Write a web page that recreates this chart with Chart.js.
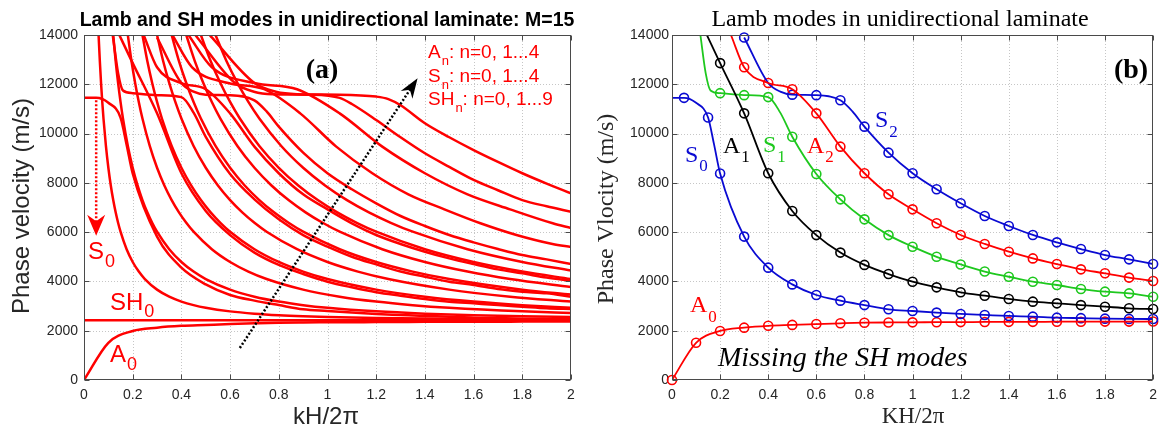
<!DOCTYPE html>
<html><head><meta charset="utf-8">
<script src="https://cdn.jsdelivr.net/npm/chart.js@4/dist/chart.umd.min.js"></script>
<style>
html,body{margin:0;padding:0;background:#fff;}
#wrap{position:relative;width:1164px;height:433px;overflow:hidden;}
canvas{position:absolute;top:0;}
#cL{left:0} #cR{left:582px}
</style></head><body>
<div id="wrap"><canvas id="cL" width="582" height="433"></canvas><canvas id="cR" width="582" height="433"></canvas></div>
<script>
// ---------- axis ticks ----------
const xTicks = [0,0.2,0.4,0.6,0.8,1,1.2,1.4,1.6,1.8,2];
const yTicks = [0,2000,4000,6000,8000,10000,12000,14000];

// ---------- Lamb modes (markers) + extra line-shape points ----------
const rA0_x = [0,0.1,0.2,0.3,0.4,0.5,0.6,0.7,0.8,0.9,1.0,1.1,1.2,1.3,1.4,1.5,1.6,1.7,1.8,1.9,2.0];
const rA0_v = [0,1510,1990,2125,2200,2235,2270,2300,2325,2335,2340,2345,2350,2355,2360,2360,2365,2365,2370,2370,2375];
const rA0_extra = [];
const rS0_x = [0.05,0.15,0.2,0.3,0.4,0.5,0.6,0.7,0.8,0.9,1.0,1.1,1.2,1.3,1.4,1.5,1.6,1.7,1.8,1.9,2.0];
const rS0_v = [11450,10650,8380,5820,4560,3880,3450,3220,3040,2870,2800,2735,2680,2640,2600,2570,2530,2510,2490,2480,2475];
const rS0_extra = [[0,11450],[0.1,11250],[0.175,9550]];
const rA1_x = [0.2,0.3,0.4,0.5,0.6,0.7,0.8,0.9,1.0,1.1,1.2,1.3,1.4,1.5,1.6,1.7,1.8,1.9,2.0];
const rA1_v = [12860,10820,8390,6860,5880,5170,4670,4300,3990,3760,3560,3420,3290,3180,3110,3040,2975,2910,2880];
const rA1_extra = [[0.145,14000]];
const rS1_x = [0.2,0.3,0.4,0.5,0.6,0.7,0.8,0.9,1.0,1.1,1.2,1.3,1.4,1.5,1.6,1.7,1.8,1.9,2.0];
const rS1_v = [11640,11560,11480,9870,8360,7330,6520,5880,5410,5000,4690,4400,4190,3990,3855,3690,3585,3515,3380];
const rS1_extra = [[0.118,14000],[0.14,12450],[0.16,11750],[0.45,10850]];
const rA2_x = [0.3,0.4,0.5,0.6,0.7,0.8,0.9,1.0,1.1,1.2,1.3,1.4,1.5,1.6,1.7,1.8,1.9,2.0];
const rA2_v = [12690,12050,11800,10820,9470,8390,7535,6925,6360,5885,5520,5205,4935,4705,4490,4330,4155,4020];
const rA2_extra = [[0.245,14000]];
const rS2_x = [0.3,0.5,0.6,0.7,0.8,0.9,1.0,1.1,1.2,1.3,1.4,1.5,1.6,1.7,1.8,1.9,2.0];
const rS2_v = [13900,11580,11560,11350,10280,9225,8390,7740,7170,6655,6250,5885,5585,5315,5070,4895,4705];
const rS2_extra = [[0.4,12050],[0.45,11700],[0.75,10900]];

// ---------- extra modes only in panel (a): [kH/2pi, phase velocity] ----------
const lA3  = [[0.363,14000],[0.444,12690],[0.592,12050],[0.74,11800],[0.888,10820],[1.036,9470],[1.184,8390],[1.332,7535],[1.48,6925],[1.628,6360],[1.776,5885],[1.924,5520],[2.0,5400]];
const lA4  = [[0.429,14000],[0.525,12690],[0.7,12050],[0.875,11800],[1.05,10820],[1.225,9470],[1.4,8390],[1.575,7535],[1.75,6925],[1.925,6360],[2.0,6170]];
const lS3  = [[0.457,14000],[0.465,13900],[0.62,12050],[0.698,11700],[0.775,11600],[0.93,11580],[1.05,11450],[1.1,11200],[1.2,10550],[1.3,9850],[1.4,9200],[1.5,8650],[1.6,8120],[1.7,7700],[1.8,7300],[1.9,7050],[2.0,6830]];
const lS4  = [[0.516,14000],[0.525,13900],[0.7,12050],[0.788,11700],[0.875,11600],[1.05,11580],[1.2,11500],[1.25,11400],[1.3,11150],[1.4,10420],[1.5,9850],[1.6,9330],[1.7,8850],[1.8,8390],[1.9,7970],[2.0,7575]];
const lSH0 = [[0,2420],[2,2420]];
const lSH1 = [[0.0599,14000],[0.065,12943],[0.07,12054],[0.075,11283],[0.08,10611],[0.09,9497],[0.1,8612],[0.11,7894],[0.12,7301],[0.13,6803],[0.14,6380],[0.15,6018],[0.175,5307],[0.2,4789],[0.225,4399],[0.25,4097],[0.3,3667],[0.35,3381],[0.4,3182],[0.45,3038],[0.5,2931],[0.6,2785],[0.7,2693],[0.8,2631],[0.9,2588],[1.0,2557],[1.2,2516],[1.6,2474],[2.0,2455]];
const lSH2 = [[0.12,14000],[0.13,12943],[0.14,12054],[0.15,11283],[0.16,10611],[0.18,9497],[0.2,8612],[0.22,7894],[0.24,7301],[0.26,6803],[0.28,6380],[0.3,6018],[0.35,5307],[0.4,4789],[0.45,4399],[0.5,4097],[0.6,3667],[0.7,3381],[0.8,3182],[0.9,3038],[1.0,2931],[1.2,2785],[1.4,2693],[1.6,2631],[1.8,2588],[2.0,2557]];
const lSH3 = [[0.18,14000],[0.195,12943],[0.21,12054],[0.225,11283],[0.24,10611],[0.27,9497],[0.3,8612],[0.33,7894],[0.36,7301],[0.39,6803],[0.42,6380],[0.45,6018],[0.525,5307],[0.6,4789],[0.675,4399],[0.75,4097],[0.9,3667],[1.05,3381],[1.2,3182],[1.35,3038],[1.5,2931],[1.8,2785],[2.0,2719]];
const lSH4 = [[0.24,14000],[0.26,12943],[0.28,12054],[0.3,11283],[0.32,10611],[0.36,9497],[0.4,8612],[0.44,7894],[0.48,7301],[0.52,6803],[0.56,6380],[0.6,6018],[0.7,5307],[0.8,4789],[0.9,4399],[1.0,4097],[1.2,3667],[1.4,3381],[1.6,3182],[1.8,3038],[2.0,2931]];
const lSH5 = [[0.3,14000],[0.325,12943],[0.35,12054],[0.375,11283],[0.4,10611],[0.45,9497],[0.5,8612],[0.55,7894],[0.6,7301],[0.65,6803],[0.7,6380],[0.75,6018],[0.875,5307],[1.0,4789],[1.125,4399],[1.25,4097],[1.5,3667],[1.75,3381],[2.0,3182]];
const lSH6 = [[0.36,14000],[0.39,12943],[0.42,12054],[0.45,11283],[0.48,10611],[0.54,9497],[0.6,8612],[0.66,7894],[0.72,7301],[0.78,6803],[0.84,6380],[0.9,6018],[1.05,5307],[1.2,4789],[1.35,4399],[1.5,4097],[1.8,3667],[2.0,3465]];
const lSH7 = [[0.42,14000],[0.455,12943],[0.49,12054],[0.525,11283],[0.56,10611],[0.63,9497],[0.7,8612],[0.77,7894],[0.84,7301],[0.91,6803],[0.98,6380],[1.05,6018],[1.225,5307],[1.4,4789],[1.575,4399],[1.75,4097],[2.0,3771]];
const lSH8 = [[0.48,14000],[0.52,12943],[0.56,12054],[0.6,11283],[0.64,10611],[0.72,9497],[0.8,8612],[0.88,7894],[0.96,7301],[1.04,6803],[1.12,6380],[1.2,6018],[1.4,5307],[1.6,4789],[1.8,4399],[2.0,4097]];
const lSH9 = [[0.54,14000],[0.585,12943],[0.63,12054],[0.675,11283],[0.72,10611],[0.81,9497],[0.9,8612],[0.99,7894],[1.08,7301],[1.17,6803],[1.26,6380],[1.35,6018],[1.575,5307],[1.8,4789],[2.0,4438]];

const RED='#ff0000', BLUE='#0a0ad2', GREEN='#1ec81e', BLACK='#000000';
const lamb = [
  {x:rS0_x,v:rS0_v,e:rS0_extra,c:BLUE},
  {x:rA1_x,v:rA1_v,e:rA1_extra,c:BLACK},
  {x:rS1_x,v:rS1_v,e:rS1_extra,c:GREEN},
  {x:rA2_x,v:rA2_v,e:rA2_extra,c:RED},
  {x:rS2_x,v:rS2_v,e:rS2_extra,c:BLUE},
  {x:rA0_x,v:rA0_v,e:rA0_extra,c:RED}
];
const leftOnly = [lA3,lA4,lS3,lS4,lSH0,lSH1,lSH2,lSH3,lSH4,lSH5,lSH6,lSH7,lSH8,lSH9];

// ---------- helpers ----------
const SANS='"Liberation Sans", Arial, sans-serif';
const SERIF='"Liberation Serif", "Times New Roman", serif';
function pts(a){return a.map(p=>({x:p[0],y:p[1]}));}
function merged(xs,vs,extra){const a=xs.map((x,i)=>[x,vs[i]]).concat(extra);a.sort((p,q)=>p[0]-q[0]);return pts(a);}

function scales(yW){
  return {
    x:{type:'linear',min:0,max:2,afterBuildTicks:s=>{s.ticks=xTicks.map(v=>({value:v}));},
       ticks:{autoSkip:false,maxRotation:0,padding:7,color:'#262626',font:{family:SANS,size:14},callback:v=>String(Math.round(v*10)/10)},
       grid:{display:false,drawTicks:false},border:{display:false},afterFit:s=>{s.height=53;}},
    y:{type:'linear',min:0,max:14000,afterBuildTicks:s=>{s.ticks=yTicks.map(v=>({value:v}));},
       ticks:{padding:yW===84?6:3,color:'#262626',font:{family:SANS,size:14},callback:v=>String(v)},
       grid:{display:false,drawTicks:false},border:{display:false},afterFit:s=>{s.width=yW;}}
  };
}

const framePlugin={
  id:'frame',
  beforeDatasetsDraw(c){
    const ctx=c.ctx,a=c.chartArea,x=c.scales.x,y=c.scales.y;
    ctx.save();ctx.strokeStyle='#c6c6c6';ctx.lineWidth=1;ctx.setLineDash([1,2]);
    xTicks.forEach(v=>{const p=Math.round(x.getPixelForValue(v))+0.5;if(p<=a.left+1||p>=a.right-1)return;ctx.beginPath();ctx.moveTo(p,a.top);ctx.lineTo(p,a.bottom);ctx.stroke();});
    yTicks.forEach(v=>{const p=Math.round(y.getPixelForValue(v))+0.5;if(p<=a.top+1||p>=a.bottom-1)return;ctx.beginPath();ctx.moveTo(a.left,p);ctx.lineTo(a.right,p);ctx.stroke();});
    ctx.restore();
  },
  afterDatasetsDraw(c){
    const ctx=c.ctx,a=c.chartArea,x=c.scales.x,y=c.scales.y;
    ctx.save();ctx.strokeStyle='#4a4a4a';ctx.lineWidth=1;ctx.setLineDash([]);
    const L=Math.round(a.left)+0.5,R=Math.round(a.right)-0.5,T=Math.round(a.top)+0.5,B=Math.round(a.bottom)-0.5;
    ctx.strokeRect(L,T,R-L,B-T);
    ctx.beginPath();
    xTicks.forEach(v=>{const p=Math.round(x.getPixelForValue(v))+0.5;ctx.moveTo(p,B);ctx.lineTo(p,B-5);ctx.moveTo(p,T);ctx.lineTo(p,T+5);});
    yTicks.forEach(v=>{const p=Math.round(y.getPixelForValue(v))+0.5;ctx.moveTo(L,p);ctx.lineTo(L+5,p);ctx.moveTo(R,p);ctx.lineTo(R-5,p);});
    ctx.stroke();ctx.restore();
  }
};

function sub(ctx,main,s,x,y,font,sfont,dy,color){
  ctx.fillStyle=color;ctx.textAlign='left';ctx.textBaseline='alphabetic';
  ctx.font=font;ctx.fillText(main,x,y);const w=ctx.measureText(main).width;
  ctx.font=sfont;ctx.fillText(s,x+w+1,y+dy);return x+w+1+ctx.measureText(s).width;
}
function arrowHead(ctx,tx,ty,ang,len,hw,color){
  ctx.save();ctx.translate(tx,ty);ctx.rotate(ang);ctx.fillStyle=color;ctx.beginPath();
  ctx.moveTo(0,0);ctx.lineTo(-len,-hw);ctx.lineTo(-len*0.7,0);ctx.lineTo(-len,hw);ctx.closePath();ctx.fill();ctx.restore();
}

const leftNotes={
  id:'leftNotes',
  afterDraw(c){
    const ctx=c.ctx,x=c.scales.x,y=c.scales.y;
    ctx.save();
    ctx.fillStyle='#000';ctx.font='bold 19.5px '+SANS;ctx.textAlign='center';ctx.textBaseline='alphabetic';
    ctx.fillText('Lamb and SH modes in unidirectional laminate: M=15',327,26);
    ctx.fillStyle='#262626';ctx.font='24px '+SANS;ctx.fillText('kH/2\u03c0',326,424);
    ctx.save();ctx.translate(29,206);ctx.rotate(-Math.PI/2);ctx.fillText('Phase velocity (m/s)',0,0);ctx.restore();
    ctx.fillStyle='#000';ctx.font='bold 28px '+SERIF;ctx.fillText('(a)',322,78);
    const f='19px '+SANS,sf='13px '+SANS;
    let e=sub(ctx,'A','n',428,58,f,sf,7,RED);ctx.font=f;ctx.fillText(': n=0, 1...4',e,58);
    e=sub(ctx,'S','n',428,81.5,f,sf,7,RED);ctx.font=f;ctx.fillText(': n=0, 1...4',e,81.5);
    e=sub(ctx,'SH','n',428,105,f,sf,7,RED);ctx.font=f;ctx.fillText(': n=0, 1...9',e,105);
    const F='24px '+SANS,SF='18px '+SANS;
    sub(ctx,'S','0',88,259,F,SF,8,RED);
    sub(ctx,'SH','0',110,310,F,SF,7,RED);
    sub(ctx,'A','0',110,362,F,SF,8,RED);
    const ax=x.getPixelForValue(0.05),ay0=y.getPixelForValue(11350),ay1=y.getPixelForValue(5850);
    ctx.strokeStyle=RED;ctx.lineWidth=2.5;ctx.setLineDash([2,2]);
    ctx.beginPath();ctx.moveTo(ax,ay0);ctx.lineTo(ax,ay1-10);ctx.stroke();ctx.setLineDash([]);
    arrowHead(ctx,ax,ay1,Math.PI/2,21,9,RED);
    const bx0=x.getPixelForValue(0.64),by0=y.getPixelForValue(1300),bx1=x.getPixelForValue(1.37),by1=y.getPixelForValue(12250);
    const ang=Math.atan2(by1-by0,bx1-bx0);
    ctx.strokeStyle='#000';ctx.lineWidth=2.5;ctx.setLineDash([2,2]);
    ctx.beginPath();ctx.moveTo(bx0,by0);ctx.lineTo(bx1-12*Math.cos(ang),by1-12*Math.sin(ang));ctx.stroke();ctx.setLineDash([]);
    arrowHead(ctx,bx1,by1,ang,20,7,'#000');
    ctx.restore();
  }
};

const rightNotes={
  id:'rightNotes',
  afterDraw(c){
    const ctx=c.ctx;
    ctx.save();
    ctx.fillStyle='#000';ctx.font='24px '+SERIF;ctx.textAlign='center';ctx.textBaseline='alphabetic';
    ctx.fillText('Lamb modes in unidirectional laminate',318,26);
    ctx.fillStyle='#262626';ctx.font='23px '+SERIF;ctx.fillText('KH/2\u03c0',331,423);
    ctx.save();ctx.translate(31,209);ctx.rotate(-Math.PI/2);ctx.font='24px '+SERIF;ctx.fillText('Phase Vlocity (m/s)',0,0);ctx.restore();
    ctx.fillStyle='#000';ctx.font='bold 28px '+SERIF;ctx.fillText('(b)',549,78);
    const F='24px '+SERIF,SF='17px '+SERIF;
    sub(ctx,'S','0',103,162,F,SF,9,BLUE);
    sub(ctx,'A','1',141,153,F,SF,9,BLACK);
    sub(ctx,'S','1',181,152,F,SF,10,GREEN);
    sub(ctx,'A','2',225,153,F,SF,9,RED);
    sub(ctx,'S','2',293,127,F,SF,10,BLUE);
    sub(ctx,'A','0',108,312,F,SF,10,RED);
    ctx.fillStyle='#000';ctx.font='italic 28px '+SERIF;ctx.textAlign='left';
    ctx.fillText('Missing the SH modes',136,366);
    ctx.restore();
  }
};

const common={responsive:false,animation:false,devicePixelRatio:1,events:[],
  plugins:{legend:{display:false},tooltip:{enabled:false},title:{display:false}}};

const lDatasets=[];
lamb.forEach(m=>{lDatasets.push({data:merged(m.x,m.v,m.e),borderColor:RED,borderWidth:2.5,pointRadius:0,fill:false,cubicInterpolationMode:'monotone'});});
leftOnly.forEach(m=>{lDatasets.push({data:pts(m),borderColor:RED,borderWidth:2.5,pointRadius:0,fill:false,cubicInterpolationMode:'monotone'});});
new Chart(document.getElementById('cL'),{
  type:'line',
  data:{datasets:lDatasets},
  options:Object.assign({},common,{layout:{padding:{left:0,top:35,right:11,bottom:0}},scales:scales(84)}),
  plugins:[framePlugin,leftNotes]
});

const rDatasets=[];
lamb.forEach(m=>{rDatasets.push({data:merged(m.x,m.v,m.e),borderColor:m.c,borderWidth:1.8,pointRadius:0,fill:false,cubicInterpolationMode:'monotone'});});
lamb.forEach(m=>{rDatasets.push({data:pts(m.x.map((x,i)=>[x,m.v[i]])),showLine:false,borderColor:m.c,pointBorderColor:m.c,pointBackgroundColor:'rgba(0,0,0,0)',pointRadius:4.5,pointBorderWidth:1.6,clip:false});});
new Chart(document.getElementById('cR'),{
  type:'line',
  data:{datasets:rDatasets},
  options:Object.assign({},common,{layout:{padding:{left:0,top:35,right:8,bottom:0}},scales:scales(90)}),
  plugins:[framePlugin,rightNotes]
});
</script>
</body></html>
